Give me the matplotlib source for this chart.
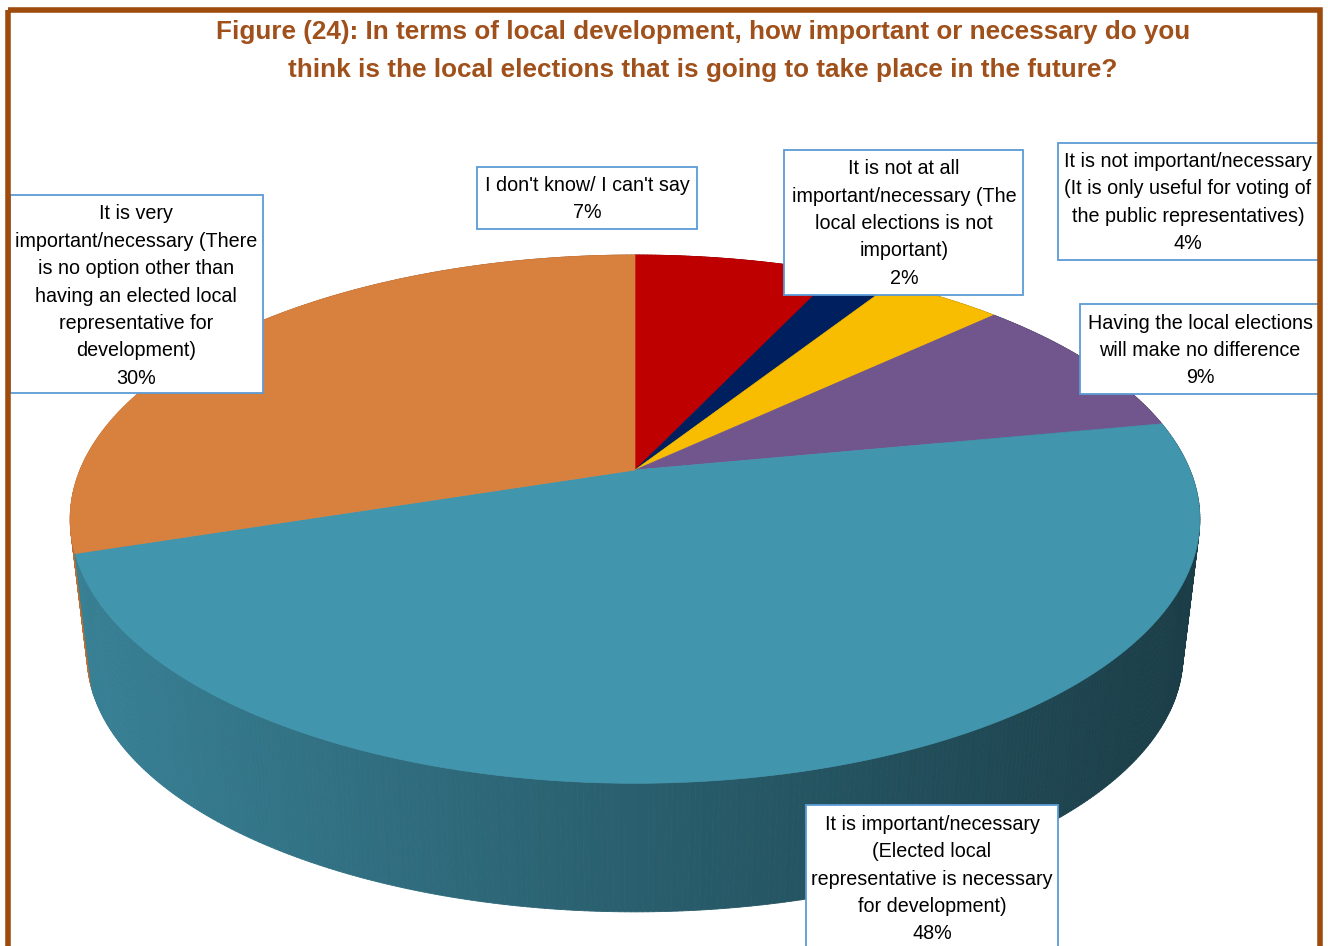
import numpy as np
import matplotlib.pyplot as plt
from matplotlib.collections import PolyCollection
from matplotlib.patches import Polygon, Rectangle
from matplotlib.colors import to_rgb

# Survey answers, clockwise from 12 o'clock
labels = [
    "I don't know/ I can't say",
    "It is not at all\nimportant/necessary (The\nlocal elections is not\nimportant)",
    "It is not important/necessary\n(It is only useful for voting of\nthe public representatives)",
    "Having the local elections\nwill make no difference",
    "It is important/necessary\n(Elected local\nrepresentative is necessary\nfor development)",
    "It is very\nimportant/necessary (There\nis no option other than\nhaving an elected local\nrepresentative for\ndevelopment)",
]
values = [7, 2, 4, 9, 48, 30]
colors = ['#BF0000', '#001F5E', '#F8BC00', '#71568E', '#4195AD', '#D8803E']

title = ("Figure (24): In terms of local development, how important or necessary do you\n"
         "think is the local elections that is going to take place in the future?")

# label boxes in pixel space: (left, top, right, bottom)
boxes = [
    (477, 167, 697, 229),
    (784, 150, 1023, 295),
    (1058, 143, 1319, 260),
    (1080, 304, 1319, 394),
    (806, 805, 1058, 970),
    (10, 195, 263, 393),
]
text_x = [587, 904, 1188, 1200, 932, 136]
text_y = [199, 223.5, 202.5, 350.5, 879, 296]

W, H = 1328, 946
CX, CY = 635, 470          # pie apex on the top face
SX, SY = 555, 255          # rim scale
K = 0.186                  # perspective strength
DROP, SHRINK = 138, 0.97   # bottom rim offset and scale

FONT = ['Liberation Sans Narrow', 'Liberation Sans', 'DejaVu Sans']
BROWN = '#9E4B0E'


def rim(phi, bottom=False):
    x, z = np.sin(phi), np.cos(phi)
    w = 1 + K * z
    s = SHRINK if bottom else 1.0
    cy = CY + DROP if bottom else CY
    return CX + s * SX * x / w, cy - s * SY * z / w


fig = plt.figure(figsize=(W / 100, H / 100), dpi=100)
ax = fig.add_axes([0, 0, 1, 1])
ax.set_xlim(0, W)
ax.set_ylim(H, 0)
ax.axis('off')

bounds = np.concatenate([[0], np.cumsum(values)]) / sum(values) * 2 * np.pi

# side wall: thin strips sorted back to front, darker toward the right
quads, fcs, depth = [], [], []
for i, c in enumerate(colors):
    a0, a1 = bounds[i], bounds[i + 1]
    n = max(2, int(np.degrees(a1 - a0) * 2))
    ph = np.linspace(a0, a1, n + 1)
    tx, ty = rim(ph)
    bx, by = rim(ph, bottom=True)
    base = np.array(to_rgb(c))
    for j in range(n):
        quads.append([(tx[j], ty[j]), (tx[j + 1], ty[j + 1]),
                      (bx[j + 1], by[j + 1]), (bx[j], by[j])])
        xm = (tx[j] + tx[j + 1]) / 2
        f = 0.86 - 0.45 * np.clip((xm - 70) / 1130, 0, 1)
        fcs.append(base * f)
        depth.append(np.cos((ph[j] + ph[j + 1]) / 2))
order = np.argsort(depth)[::-1]
wall = PolyCollection([quads[o] for o in order],
                      facecolors=[fcs[o] for o in order],
                      edgecolors=[fcs[o] for o in order], linewidths=0.6)
ax.add_collection(wall)

# top face
for i, c in enumerate(colors):
    a0, a1 = bounds[i], bounds[i + 1]
    ph = np.linspace(a0, a1, max(3, int(np.degrees(a1 - a0) * 2)))
    tx, ty = rim(ph)
    pts = np.column_stack([np.r_[CX, tx], np.r_[CY, ty]])
    ax.add_patch(Polygon(pts, closed=True, facecolor=c, edgecolor=c, lw=0.5))

# data labels
for lab, v, (l, t, r, b), x_, y_ in zip(labels, values, boxes, text_x, text_y):
    ax.add_patch(Rectangle((l, t), r - l, b - t, facecolor='white',
                           edgecolor='#5B9BD5', lw=1.3, zorder=5))
    ax.text(x_, y_, f"{lab}\n{v}%",
            ha='center', va='center', ma='center', fontsize=14.2,
            family=FONT, color='black', linespacing=1.56, zorder=6)

ax.text(703, 51, title, ha='center', va='center', ma='center',
        fontsize=18.8, fontweight='bold', family=FONT, color='#A0501B',
        linespacing=1.72, zorder=6)

# outer frame
ax.add_patch(Rectangle((7.5, 10.5), 1312, 980, facecolor='none',
                       edgecolor=BROWN, lw=4, zorder=7))

fig.savefig('out.png', dpi=100)
